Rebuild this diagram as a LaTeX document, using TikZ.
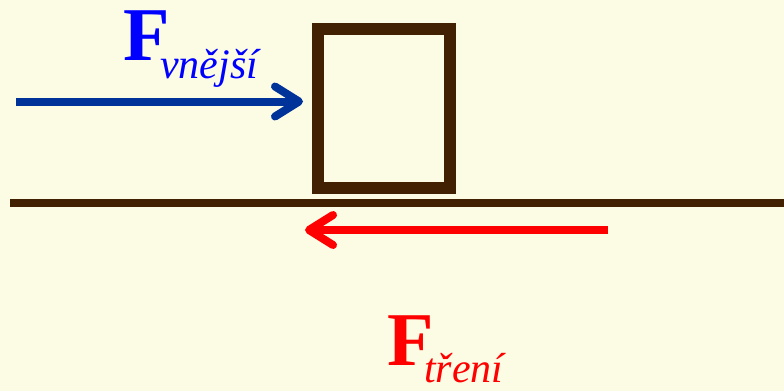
\documentclass[tikz,border=0pt]{standalone}
\usepackage{fontspec}
\setmainfont{Liberation Serif}
\usetikzlibrary{arrows.meta}
\definecolor{bgyellow}{RGB}{252,252,228}
\definecolor{boxbrown}{RGB}{66,33,2}
\definecolor{pushblue}{RGB}{0,51,153}
\definecolor{textblue}{RGB}{0,0,255}
\definecolor{fricred}{RGB}{255,0,0}
\begin{document}
\begin{tikzpicture}[x=1pt,y=-1pt,
    force/.style={line width=8pt,-{Straight Barb[length=24pt,width=30pt,round]}},
    bigF/.style={anchor=base west,inner sep=0pt,font=\fontsize{76}{76}\selectfont\bfseries},
    subF/.style={anchor=base west,inner sep=0pt,font=\fontsize{42}{42}\selectfont\itshape}]
  \fill[bgyellow] (0,0) rectangle (784,391);
  \useasboundingbox (0,0) rectangle (784,391);
  % block and ground
  \node[draw=boxbrown,line width=12pt,minimum width=132.5pt,minimum height=159.5pt,inner sep=0pt]
    (block) at (383.75,108.25) {};
  \coordinate (gl) at (10,203);
  \coordinate (gr) at (784,203);
  \draw[boxbrown,line width=7.5pt] (gl) -- (gr);
  % external force
  \coordinate (pushstart) at (16,101.5);
  \coordinate (pushtip) at (303,101.5);
  \draw[force,pushblue] (pushstart) -- (pushtip);
  \node[bigF,textblue] (fext) at (123,60) {F};
  \node[subF,textblue] (fextsub) at (160,78) {vnější};
  % friction
  \coordinate (fricstart) at (608,230);
  \coordinate (frictip) at (305,230);
  \draw[force,fricred] (fricstart) -- (frictip);
  \node[bigF,fricred] (ffric) at (387,365) {F};
  \node[subF,fricred] (ffricsub) at (424,382) {tření};
\end{tikzpicture}
\end{document}
